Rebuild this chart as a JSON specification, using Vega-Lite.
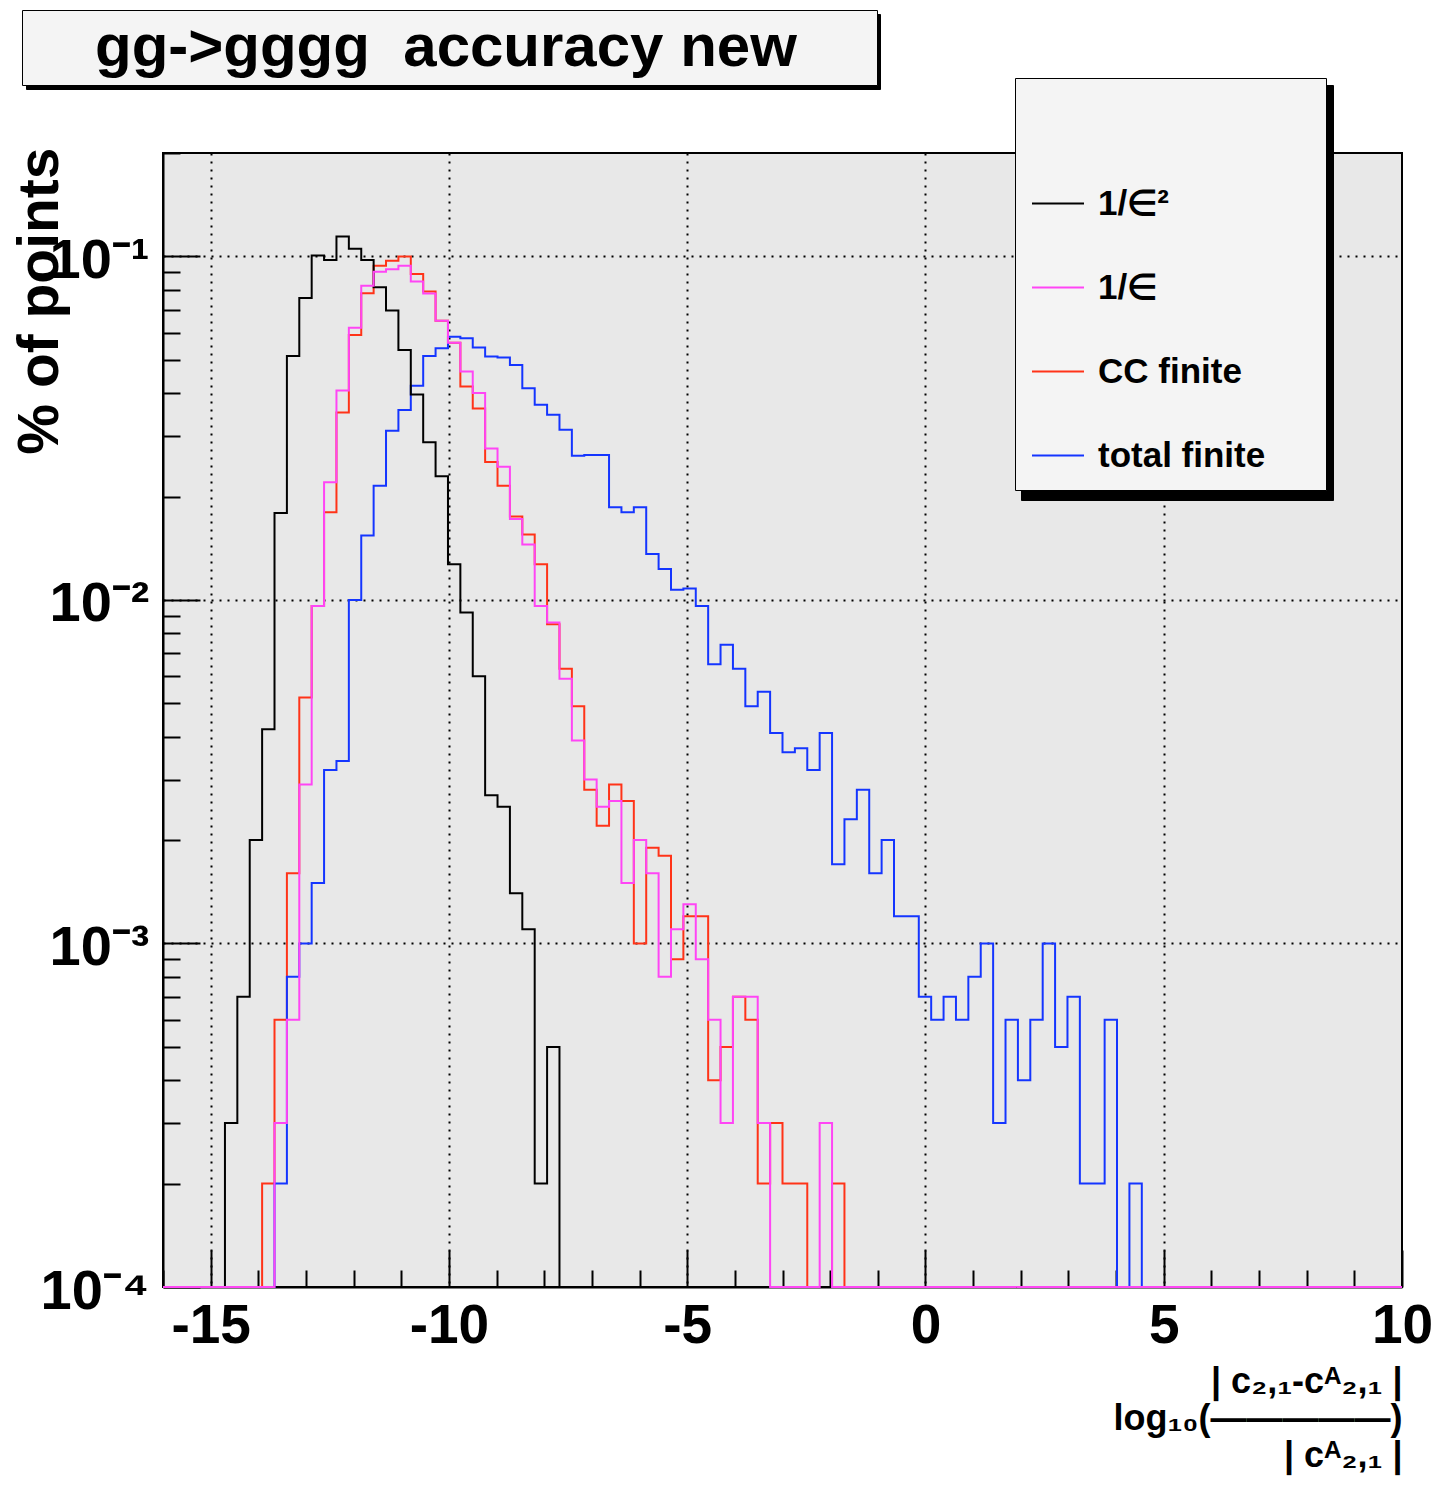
{
  "$schema": "https://vega.github.io/schema/vega-lite/v6.json",
  "background": "white",
  "autosize": {"type": "none"},
  "padding": {"left": 163, "top": 153, "right": 37, "bottom": 203},
  "width": 1239,
  "height": 1134,
  "config": {"font": "Liberation Sans"},
  "view": {"fill": "#e8e8e8", "stroke": "#000000", "strokeWidth": 2},
  "data": {"values": [
    {"series": "1/∈²", "x": -16, "y": 0.0001},
    {"series": "1/∈²", "x": -14.70, "y": 0.0003},
    {"series": "1/∈²", "x": -14.44, "y": 0.0007},
    {"series": "1/∈²", "x": -14.18, "y": 0.0020},
    {"series": "1/∈²", "x": -13.92, "y": 0.0042},
    {"series": "1/∈²", "x": -13.66, "y": 0.0179},
    {"series": "1/∈²", "x": -13.40, "y": 0.0513},
    {"series": "1/∈²", "x": -13.14, "y": 0.0757},
    {"series": "1/∈²", "x": -12.88, "y": 0.1006},
    {"series": "1/∈²", "x": -12.62, "y": 0.0977},
    {"series": "1/∈²", "x": -12.36, "y": 0.1142},
    {"series": "1/∈²", "x": -12.10, "y": 0.1052},
    {"series": "1/∈²", "x": -11.84, "y": 0.0977},
    {"series": "1/∈²", "x": -11.58, "y": 0.0813},
    {"series": "1/∈²", "x": -11.32, "y": 0.0696},
    {"series": "1/∈²", "x": -11.06, "y": 0.0534},
    {"series": "1/∈²", "x": -10.80, "y": 0.0396},
    {"series": "1/∈²", "x": -10.54, "y": 0.0288},
    {"series": "1/∈²", "x": -10.28, "y": 0.0229},
    {"series": "1/∈²", "x": -10.02, "y": 0.0127},
    {"series": "1/∈²", "x": -9.76, "y": 0.0092},
    {"series": "1/∈²", "x": -9.50, "y": 0.0060},
    {"series": "1/∈²", "x": -9.24, "y": 0.0027},
    {"series": "1/∈²", "x": -8.98, "y": 0.0025},
    {"series": "1/∈²", "x": -8.72, "y": 0.0014},
    {"series": "1/∈²", "x": -8.46, "y": 0.0011},
    {"series": "1/∈²", "x": -8.20, "y": 0.0002},
    {"series": "1/∈²", "x": -7.94, "y": 0.0005},
    {"series": "1/∈²", "x": -7.68, "y": 0.0001},
    {"series": "1/∈²", "x": 10, "y": 0.0001},

    {"series": "1/∈", "x": -16, "y": 0.0001},
    {"series": "1/∈", "x": -13.66, "y": 0.0003},
    {"series": "1/∈", "x": -13.40, "y": 0.0006},
    {"series": "1/∈", "x": -13.14, "y": 0.0029},
    {"series": "1/∈", "x": -12.88, "y": 0.0096},
    {"series": "1/∈", "x": -12.62, "y": 0.0220},
    {"series": "1/∈", "x": -12.36, "y": 0.0407},
    {"series": "1/∈", "x": -12.10, "y": 0.0620},
    {"series": "1/∈", "x": -11.84, "y": 0.0822},
    {"series": "1/∈", "x": -11.58, "y": 0.0903},
    {"series": "1/∈", "x": -11.32, "y": 0.0918},
    {"series": "1/∈", "x": -11.06, "y": 0.0940},
    {"series": "1/∈", "x": -10.80, "y": 0.0845},
    {"series": "1/∈", "x": -10.54, "y": 0.0780},
    {"series": "1/∈", "x": -10.28, "y": 0.0650},
    {"series": "1/∈", "x": -10.02, "y": 0.0561},
    {"series": "1/∈", "x": -9.76, "y": 0.0462},
    {"series": "1/∈", "x": -9.50, "y": 0.0400},
    {"series": "1/∈", "x": -9.24, "y": 0.0276},
    {"series": "1/∈", "x": -8.98, "y": 0.0244},
    {"series": "1/∈", "x": -8.72, "y": 0.0172},
    {"series": "1/∈", "x": -8.46, "y": 0.0145},
    {"series": "1/∈", "x": -8.20, "y": 0.0096},
    {"series": "1/∈", "x": -7.94, "y": 0.0086},
    {"series": "1/∈", "x": -7.68, "y": 0.0059},
    {"series": "1/∈", "x": -7.42, "y": 0.0039},
    {"series": "1/∈", "x": -7.16, "y": 0.0030},
    {"series": "1/∈", "x": -6.90, "y": 0.0025},
    {"series": "1/∈", "x": -6.64, "y": 0.0026},
    {"series": "1/∈", "x": -6.38, "y": 0.0015},
    {"series": "1/∈", "x": -6.12, "y": 0.0020},
    {"series": "1/∈", "x": -5.86, "y": 0.0016},
    {"series": "1/∈", "x": -5.60, "y": 0.0008},
    {"series": "1/∈", "x": -5.34, "y": 0.0011},
    {"series": "1/∈", "x": -5.08, "y": 0.0013},
    {"series": "1/∈", "x": -4.82, "y": 0.0009},
    {"series": "1/∈", "x": -4.56, "y": 0.0006},
    {"series": "1/∈", "x": -4.30, "y": 0.0003},
    {"series": "1/∈", "x": -4.04, "y": 0.0007},
    {"series": "1/∈", "x": -3.78, "y": 0.0007},
    {"series": "1/∈", "x": -3.52, "y": 0.0003},
    {"series": "1/∈", "x": -3.26, "y": 0.0001},
    {"series": "1/∈", "x": -2.22, "y": 0.0003},
    {"series": "1/∈", "x": -1.96, "y": 0.0001},
    {"series": "1/∈", "x": 10, "y": 0.0001},

    {"series": "CC finite", "x": -16, "y": 0.0001},
    {"series": "CC finite", "x": -13.92, "y": 0.0002},
    {"series": "CC finite", "x": -13.66, "y": 0.0006},
    {"series": "CC finite", "x": -13.40, "y": 0.0016},
    {"series": "CC finite", "x": -13.14, "y": 0.0052},
    {"series": "CC finite", "x": -12.88, "y": 0.0096},
    {"series": "CC finite", "x": -12.62, "y": 0.0180},
    {"series": "CC finite", "x": -12.36, "y": 0.0351},
    {"series": "CC finite", "x": -12.10, "y": 0.0591},
    {"series": "CC finite", "x": -11.84, "y": 0.0781},
    {"series": "CC finite", "x": -11.58, "y": 0.0940},
    {"series": "CC finite", "x": -11.32, "y": 0.0972},
    {"series": "CC finite", "x": -11.06, "y": 0.1000},
    {"series": "CC finite", "x": -10.80, "y": 0.0889},
    {"series": "CC finite", "x": -10.54, "y": 0.0790},
    {"series": "CC finite", "x": -10.28, "y": 0.0650},
    {"series": "CC finite", "x": -10.02, "y": 0.0561},
    {"series": "CC finite", "x": -9.76, "y": 0.0418},
    {"series": "CC finite", "x": -9.50, "y": 0.0361},
    {"series": "CC finite", "x": -9.24, "y": 0.0252},
    {"series": "CC finite", "x": -8.98, "y": 0.0215},
    {"series": "CC finite", "x": -8.72, "y": 0.0175},
    {"series": "CC finite", "x": -8.46, "y": 0.0155},
    {"series": "CC finite", "x": -8.20, "y": 0.0127},
    {"series": "CC finite", "x": -7.94, "y": 0.0085},
    {"series": "CC finite", "x": -7.68, "y": 0.0063},
    {"series": "CC finite", "x": -7.42, "y": 0.0049},
    {"series": "CC finite", "x": -7.16, "y": 0.0028},
    {"series": "CC finite", "x": -6.90, "y": 0.0022},
    {"series": "CC finite", "x": -6.64, "y": 0.0029},
    {"series": "CC finite", "x": -6.38, "y": 0.0026},
    {"series": "CC finite", "x": -6.12, "y": 0.0010},
    {"series": "CC finite", "x": -5.86, "y": 0.0019},
    {"series": "CC finite", "x": -5.60, "y": 0.0018},
    {"series": "CC finite", "x": -5.34, "y": 0.0009},
    {"series": "CC finite", "x": -5.08, "y": 0.0012},
    {"series": "CC finite", "x": -4.82, "y": 0.0012},
    {"series": "CC finite", "x": -4.56, "y": 0.0004},
    {"series": "CC finite", "x": -4.30, "y": 0.0005},
    {"series": "CC finite", "x": -4.04, "y": 0.0007},
    {"series": "CC finite", "x": -3.78, "y": 0.0006},
    {"series": "CC finite", "x": -3.52, "y": 0.0002},
    {"series": "CC finite", "x": -3.26, "y": 0.0003},
    {"series": "CC finite", "x": -3.00, "y": 0.0002},
    {"series": "CC finite", "x": -2.74, "y": 0.0002},
    {"series": "CC finite", "x": -2.48, "y": 0.0001},
    {"series": "CC finite", "x": -1.96, "y": 0.0002},
    {"series": "CC finite", "x": -1.70, "y": 0.0001},
    {"series": "CC finite", "x": 10, "y": 0.0001},

    {"series": "total finite", "x": -16, "y": 0.0001},
    {"series": "total finite", "x": -13.66, "y": 0.0002},
    {"series": "total finite", "x": -13.40, "y": 0.0008},
    {"series": "total finite", "x": -13.14, "y": 0.0010},
    {"series": "total finite", "x": -12.88, "y": 0.0015},
    {"series": "total finite", "x": -12.62, "y": 0.0032},
    {"series": "total finite", "x": -12.36, "y": 0.0034},
    {"series": "total finite", "x": -12.10, "y": 0.0100},
    {"series": "total finite", "x": -11.84, "y": 0.0154},
    {"series": "total finite", "x": -11.58, "y": 0.0215},
    {"series": "total finite", "x": -11.32, "y": 0.0311},
    {"series": "total finite", "x": -11.06, "y": 0.0357},
    {"series": "total finite", "x": -10.80, "y": 0.0420},
    {"series": "total finite", "x": -10.54, "y": 0.0513},
    {"series": "total finite", "x": -10.28, "y": 0.0540},
    {"series": "total finite", "x": -10.02, "y": 0.0584},
    {"series": "total finite", "x": -9.76, "y": 0.0578},
    {"series": "total finite", "x": -9.50, "y": 0.0543},
    {"series": "total finite", "x": -9.24, "y": 0.0511},
    {"series": "total finite", "x": -8.98, "y": 0.0508},
    {"series": "total finite", "x": -8.72, "y": 0.0483},
    {"series": "total finite", "x": -8.46, "y": 0.0413},
    {"series": "total finite", "x": -8.20, "y": 0.0370},
    {"series": "total finite", "x": -7.94, "y": 0.0346},
    {"series": "total finite", "x": -7.68, "y": 0.0313},
    {"series": "total finite", "x": -7.42, "y": 0.0263},
    {"series": "total finite", "x": -7.16, "y": 0.0264},
    {"series": "total finite", "x": -6.90, "y": 0.0264},
    {"series": "total finite", "x": -6.64, "y": 0.0186},
    {"series": "total finite", "x": -6.38, "y": 0.0180},
    {"series": "total finite", "x": -6.12, "y": 0.0186},
    {"series": "total finite", "x": -5.86, "y": 0.0136},
    {"series": "total finite", "x": -5.60, "y": 0.0123},
    {"series": "total finite", "x": -5.34, "y": 0.0107},
    {"series": "total finite", "x": -5.08, "y": 0.0108},
    {"series": "total finite", "x": -4.82, "y": 0.0096},
    {"series": "total finite", "x": -4.56, "y": 0.0065},
    {"series": "total finite", "x": -4.30, "y": 0.0074},
    {"series": "total finite", "x": -4.04, "y": 0.0063},
    {"series": "total finite", "x": -3.78, "y": 0.0049},
    {"series": "total finite", "x": -3.52, "y": 0.0054},
    {"series": "total finite", "x": -3.26, "y": 0.0041},
    {"series": "total finite", "x": -3.00, "y": 0.0036},
    {"series": "total finite", "x": -2.74, "y": 0.0037},
    {"series": "total finite", "x": -2.48, "y": 0.0032},
    {"series": "total finite", "x": -2.22, "y": 0.0041},
    {"series": "total finite", "x": -1.96, "y": 0.0017},
    {"series": "total finite", "x": -1.70, "y": 0.0023},
    {"series": "total finite", "x": -1.44, "y": 0.0028},
    {"series": "total finite", "x": -1.18, "y": 0.0016},
    {"series": "total finite", "x": -0.92, "y": 0.0020},
    {"series": "total finite", "x": -0.66, "y": 0.0012},
    {"series": "total finite", "x": -0.40, "y": 0.0012},
    {"series": "total finite", "x": -0.14, "y": 0.0007},
    {"series": "total finite", "x": 0.12, "y": 0.0006},
    {"series": "total finite", "x": 0.38, "y": 0.0007},
    {"series": "total finite", "x": 0.64, "y": 0.0006},
    {"series": "total finite", "x": 0.90, "y": 0.0008},
    {"series": "total finite", "x": 1.16, "y": 0.0010},
    {"series": "total finite", "x": 1.42, "y": 0.0003},
    {"series": "total finite", "x": 1.68, "y": 0.0006},
    {"series": "total finite", "x": 1.94, "y": 0.0004},
    {"series": "total finite", "x": 2.20, "y": 0.0006},
    {"series": "total finite", "x": 2.46, "y": 0.0010},
    {"series": "total finite", "x": 2.72, "y": 0.0005},
    {"series": "total finite", "x": 2.98, "y": 0.0007},
    {"series": "total finite", "x": 3.24, "y": 0.0002},
    {"series": "total finite", "x": 3.50, "y": 0.0002},
    {"series": "total finite", "x": 3.76, "y": 0.0006},
    {"series": "total finite", "x": 4.02, "y": 0.0001},
    {"series": "total finite", "x": 4.28, "y": 0.0002},
    {"series": "total finite", "x": 4.54, "y": 0.0001},
    {"series": "total finite", "x": 10, "y": 0.0001}
  ]},
  "encoding": {
    "x": {
      "field": "x", "type": "quantitative",
      "scale": {"domain": [-16, 10], "nice": false, "zero": false},
      "axis": {
        "values": [-16,-15,-14,-13,-12,-11,-10,-9,-8,-7,-6,-5,-4,-3,-2,-1,0,1,2,3,4,5,6,7,8,9,10],
        "labelExpr": "datum.value % 5 === 0 ? '' + datum.value : ''",
        "labelFont": "Liberation Sans", "labelFontWeight": "bold", "labelFontSize": 55, "labelColor": "#000000",
        "labelPadding": 49, "labelFlush": false, "labelOverlap": false, "labelBound": false,
        "tickSize": {"condition": {"test": "datum.value % 5 === 0", "value": -37}, "value": -17},
        "tickColor": "#000000", "tickWidth": 2,
        "grid": true, "gridColor": "#000000", "gridDash": [2, 6], "gridWidth": 2,
        "gridOpacity": {"condition": {"test": "datum.value % 5 === 0 && datum.value > -16 && datum.value < 10", "value": 1}, "value": 0},
        "domainColor": "#000000", "domainWidth": 2,
        "title": ["| c₂,₁-cᴬ₂,₁ |\u2009\u2009", "log₁₀(—————)", "| cᴬ₂,₁ |\u2003\u2009"],
        "titleFont": "Liberation Sans", "titleFontWeight": "bold", "titleFontSize": 36, "titleColor": "#000000",
        "titleAlign": "right", "titleBaseline": "top", "titleX": 1239, "titleY": 77, "titleLineHeight": 37
      }
    },
    "y": {
      "field": "y", "type": "quantitative",
      "scale": {"type": "log", "domain": [0.0001, 0.2], "nice": false},
      "axis": {
        "values": [0.0001,0.0002,0.0003,0.0004,0.0005,0.0006,0.0007,0.0008,0.0009,0.001,0.002,0.003,0.004,0.005,0.006,0.007,0.008,0.009,0.01,0.02,0.03,0.04,0.05,0.06,0.07,0.08,0.09,0.1,0.2],
        "labelExpr": "datum.value === 0.1 ? '10⁻¹' : datum.value === 0.01 ? '10⁻²' : datum.value === 0.001 ? '10⁻³' : datum.value === 0.0001 ? '10⁻⁴' : ''",
        "labelFont": "Liberation Sans", "labelFontWeight": "bold", "labelFontSize": 56, "labelColor": "#000000",
        "labelPadding": 51, "labelOverlap": false, "labelBound": false, "labelFlush": false, "labelBaseline": "middle", "labelOffset": 4,
        "tickSize": {"condition": {"test": "abs(log(datum.value)/LN10 - round(log(datum.value)/LN10)) < 0.000001", "value": -37}, "value": -17},
        "tickColor": "#000000", "tickWidth": 2,
        "grid": true, "gridColor": "#000000", "gridDash": [2, 6], "gridWidth": 2,
        "gridOpacity": {"condition": {"test": "abs(log(datum.value)/LN10 - round(log(datum.value)/LN10)) < 0.000001 && datum.value > 0.00015", "value": 1}, "value": 0},
        "domainColor": "#000000", "domainWidth": 2,
        "title": "% of points",
        "titleFont": "Liberation Sans", "titleFontWeight": "bold", "titleFontSize": 57, "titleColor": "#000000",
        "titleAngle": 270, "titleAlign": "right", "titleBaseline": "bottom", "titleX": -94, "titleY": -6
      }
    },
    "color": {
      "field": "series", "type": "nominal",
      "scale": {"domain": ["1/∈²", "1/∈", "CC finite", "total finite"], "range": ["#000000", "#ff45f5", "#ff3318", "#1435ff"]},
      "legend": {
        "orient": "none", "legendX": 852, "legendY": -75, "zindex": 2,
        "title": "MMMMMMMMMMMM",
        "titleFontSize": 27.9, "titlePadding": 54.6, "titleLimit": 1000, "titleColor": "rgba(0,0,0,0)", "titleOpacity": 0,
        "fillColor": "#f4f4f4", "strokeColor": "#000000", "padding": 16,
        "symbolType": "stroke", "symbolSize": 2704, "symbolStrokeWidth": 2,
        "labelFont": "Liberation Sans", "labelFontWeight": "bold", "labelFontSize": 35, "labelColor": "#000000",
        "labelOffset": 13, "labelLimit": 400, "rowPadding": 39
      }
    },
    "strokeDash": {
      "field": "series", "type": "nominal",
      "scale": {"domain": ["total finite", "CC finite", "1/∈", "1/∈²"], "range": [[1, 0], [1, 0], [1, 0], [1, 0]]},
      "legend": {
        "orient": "none", "legendX": 858, "legendY": -68, "zindex": 1,
        "title": null, "labelExpr": "''", "labelOffset": 0, "labelFontSize": 1,
        "fillColor": "#000000", "strokeColor": "#000000", "padding": 13,
        "symbolType": "stroke", "symbolSize": 81225, "symbolStrokeWidth": 1, "symbolOpacity": 0,
        "clipHeight": 80, "rowPadding": 23
      }
    }
  },
  "layer": [
    {"transform": [{"filter": "datum.series === 'CC finite'"}], "mark": {"type": "line", "interpolate": "step-after", "strokeWidth": 2}},
    {"transform": [{"filter": "datum.series === 'total finite'"}], "mark": {"type": "line", "interpolate": "step-after", "strokeWidth": 2}},
    {"transform": [{"filter": "datum.series === '1/∈²'"}], "mark": {"type": "line", "interpolate": "step-after", "strokeWidth": 2}},
    {"transform": [{"filter": "datum.series === '1/∈'"}], "mark": {"type": "line", "interpolate": "step-after", "strokeWidth": 2}},
    {
      "transform": [{"filter": "datum.series === 'total finite' && datum.x === 10"}],
      "mark": {"type": "point", "opacity": 0},
      "encoding": {
        "shape": {
          "datum": "gg->gggg\u00a0 accuracy new\u00a0\u2009\u2800",
          "legend": {
            "orient": "none", "legendX": -141, "legendY": -143, "zindex": 2,
            "title": null, "padding": 7,
            "symbolType": "square", "symbolSize": 3600, "symbolOpacity": 0,
            "symbolFillColor": "rgba(0,0,0,0)", "symbolStrokeColor": "rgba(0,0,0,0)",
            "labelFont": "Liberation Sans", "labelFontWeight": "bold", "labelFontSize": 60, "labelColor": "#000000",
            "labelOffset": 4, "labelLimit": 2000,
            "fillColor": "#f4f4f4", "strokeColor": "#000000"
          }
        },
        "fill": {
          "datum": "shadow",
          "scale": {"range": ["#000000"]},
          "legend": {
            "orient": "none", "legendX": -137, "legendY": -139, "zindex": 1,
            "title": null, "padding": 7, "labelExpr": "''", "labelOffset": 0, "labelFontSize": 1,
            "symbolType": "stroke", "symbolSize": 703921, "symbolStrokeWidth": 1, "symbolOpacity": 0,
            "clipHeight": 61,
            "fillColor": "#000000", "strokeColor": "#000000"
          }
        }
      }
    }
  ]
}
